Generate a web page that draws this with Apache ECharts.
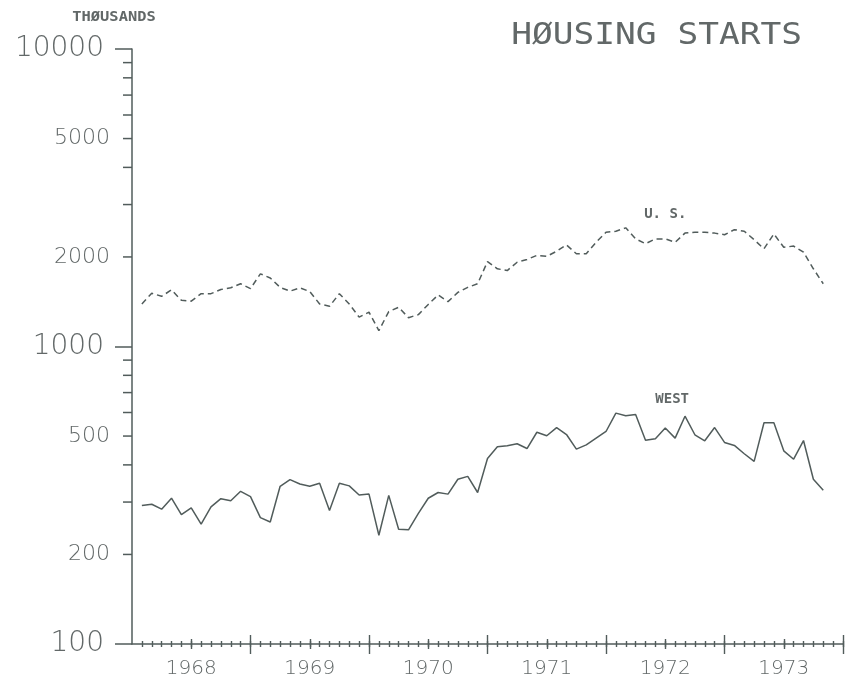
<!DOCTYPE html>
<html>
<head>
<meta charset="utf-8">
<title>Housing starts</title>
<script src="https://cdn.jsdelivr.net/npm/echarts@6/dist/echarts.min.js"></script>
<style>
  html, body { margin: 0; padding: 0; background: #ffffff; }
  #chart { width: 854px; height: 682px; }
</style>
</head>
<body>
<div id="chart"></div>
<script>
// Monthly housing starts, thousands of units, Feb 1968 - Nov 1973
const firstMonth = { year: 1968, month: 2 };

const usStarts = [
  1390, 1510, 1475, 1550, 1430, 1420, 1505, 1505, 1555, 1575,
  1625, 1565, 1755, 1700, 1580, 1535, 1575, 1530, 1390, 1365,
  1505, 1390, 1255, 1305, 1130, 1310, 1355, 1250, 1280, 1385,
  1490, 1415, 1520, 1580, 1625, 1930, 1825, 1800, 1920, 1960,
  2025, 2010, 2090, 2195, 2050, 2050, 2240, 2420, 2440, 2505,
  2300, 2215, 2300, 2300, 2240, 2405, 2420, 2420, 2405, 2375,
  2470, 2440, 2285, 2130, 2390, 2155, 2175, 2075, 1825, 1625
];

const westStarts = [
  292, 295, 284, 309, 272, 287, 253, 289, 308, 303,
  326, 313, 266, 257, 339, 357, 345, 339, 347, 281,
  347, 340, 317, 319, 232, 316, 243, 242, 275, 309,
  323, 319, 358, 366, 323, 420, 460, 464, 471, 454,
  515, 501, 534, 506, 452, 467, 492, 518, 597, 585,
  591, 484, 490, 532, 492, 583, 505, 482, 534, 476,
  465, 436, 411, 554, 554, 446, 418, 483, 358, 329
];

// Axis ticks and labels
const yearLabels = ['1968', '1969', '1970', '1971', '1972', '1973'];
const decadeTicks = [100, 1000, 10000];
const minorTicks = [200, 300, 400, 500, 600, 700, 800, 900,
                    2000, 3000, 4000, 5000, 6000, 7000, 8000, 9000];
const minorLabels = [200, 500, 2000, 5000];

const LINE = '#515c5b';
const TEXT = '#626868';

// month labels "YYYY-MM" and their offset in months from Jan 1968
const months = usStarts.map((_, i) => {
  const m0 = firstMonth.month - 1 + i;
  const y = firstMonth.year + Math.floor(m0 / 12);
  const m = (m0 % 12) + 1;
  return y + '-' + String(m).padStart(2, '0');
});
const monthOffset = s => {
  const [y, m] = s.split('-').map(Number);
  return (y - 1968) * 12 + (m - 1);
};
const spanMonths = yearLabels.length * 12;

const monthTickVals = [], halfTickVals = [], yearTickVals = [], labelVals = [];
for (let m = 1; m <= spanMonths; m++) monthTickVals.push(m);
yearLabels.forEach((_, i) => {
  labelVals.push(i * 12 + 6);
  halfTickVals.push(i * 12 + 6);
  yearTickVals.push((i + 1) * 12);
});

const usData = months.map((s, i) => [monthOffset(s), usStarts[i]]);
const westData = months.map((s, i) => [monthOffset(s), westStarts[i]]);

const seriesLabel = (text, offset, distance) => ({
  show: true, position: 'top', distance: distance, offset: offset,
  formatter: text, color: TEXT,
  fontFamily: '"DejaVu Sans Mono", monospace', fontSize: 14, fontWeight: 'bold'
});
const usItems = usData.map((d, i) => i === 53
  ? { value: d, label: seriesLabel('U. S.', [0, 0], 18) } : d);
const westItems = westData.map((d, i) => i === 54
  ? { value: d, label: seriesLabel('WEST', [-3, 0], 32) } : d);

const xBase = {
  type: 'value', min: 0, max: spanMonths, position: 'bottom',
  splitLine: { show: false },
  axisLabel: { show: false },
  axisLine: { show: false, onZero: false }
};
const tickAxis = (offset, length, interval, values) => Object.assign({}, xBase, {
  offset: offset, interval: interval,
  axisTick: { show: true, length: length, customValues: values,
              lineStyle: { color: LINE, width: 1.4 } }
});

const chart = echarts.init(document.getElementById('chart'), null, { renderer: 'canvas' });

chart.setOption({
  animation: false,
  backgroundColor: '#ffffff',
  grid: { left: 132, right: 11, top: 49, bottom: 38, containLabel: false },
  graphic: [
    {
      type: 'text', x: 802, y: 36, scaleX: 1.15, silent: true,
      style: { text: 'HØUSING STARTS', fill: TEXT, align: 'right', verticalAlign: 'middle',
               font: '30px "DejaVu Sans Mono", monospace' }
    },
    {
      type: 'text', x: 114, y: 17, scaleX: 1.1, silent: true,
      style: { text: 'THØUSANDS', fill: TEXT, align: 'center', verticalAlign: 'middle',
               font: 'bold 14px "DejaVu Sans Mono", monospace' }
    }
  ],
  xAxis: [
    Object.assign({}, xBase, {
      interval: 6,
      axisLine: { show: true, onZero: false, lineStyle: { color: LINE, width: 1.5 } },
      axisTick: { show: false },
      axisLabel: {
        show: true, customValues: labelVals, margin: 15,
        color: TEXT, fontSize: 20, fontFamily: '"DejaVu Sans", sans-serif', fontWeight: 200,
        formatter: v => yearLabels[Math.round((v - 6) / 12)] || ''
      }
    }),
    tickAxis(-3, 6, 1, monthTickVals),
    tickAxis(-5, 10, 6, halfTickVals),
    tickAxis(-9, 19, 12, yearTickVals)
  ],
  yAxis: {
    type: 'log', logBase: 10, min: decadeTicks[0], max: decadeTicks[decadeTicks.length - 1],
    splitLine: { show: false },
    axisLine: { show: true, lineStyle: { color: LINE, width: 1.5 } },
    axisTick: { show: true, length: 17, lineStyle: { color: LINE, width: 1.5 } },
    axisLabel: {
      margin: 28, color: TEXT, fontSize: 28,
      fontFamily: '"DejaVu Sans", sans-serif', fontWeight: 200,
      formatter: v => String(Math.round(v))
    }
  },
  series: [
    {
      name: 'U. S.', type: 'line', xAxisIndex: 0, data: usItems,
      showSymbol: true, showAllSymbol: true, symbol: 'circle', symbolSize: 0,
      lineStyle: { color: LINE, width: 1.5, type: [6, 4] },
      itemStyle: { color: LINE }, label: { show: false }, silent: true
    },
    {
      name: 'WEST', type: 'line', xAxisIndex: 0, data: westItems,
      showSymbol: true, showAllSymbol: true, symbol: 'circle', symbolSize: 0,
      lineStyle: { color: LINE, width: 1.5 },
      itemStyle: { color: LINE }, label: { show: false }, silent: true
    },
    {
      // intermediate log ticks (2-9 of each decade) with selected labels
      type: 'custom', xAxisIndex: 0, clip: false, silent: true,
      data: minorTicks.map(v => [0, v]),
      renderItem: (params, api) => {
        const v = api.value(1);
        const p = api.coord([api.value(0), v]);
        const children = [{
          type: 'line',
          shape: { x1: p[0] - 9, y1: p[1], x2: p[0], y2: p[1] },
          style: { stroke: LINE, lineWidth: 1.5 }
        }];
        if (minorLabels.indexOf(v) >= 0) {
          children.push({
            type: 'text',
            style: { text: String(v), x: p[0] - 22, y: p[1], align: 'right', verticalAlign: 'middle',
                     fill: TEXT, font: '200 22px "DejaVu Sans", sans-serif' }
          });
        }
        return { type: 'group', children: children };
      }
    }
  ]
});
</script>
</body>
</html>
